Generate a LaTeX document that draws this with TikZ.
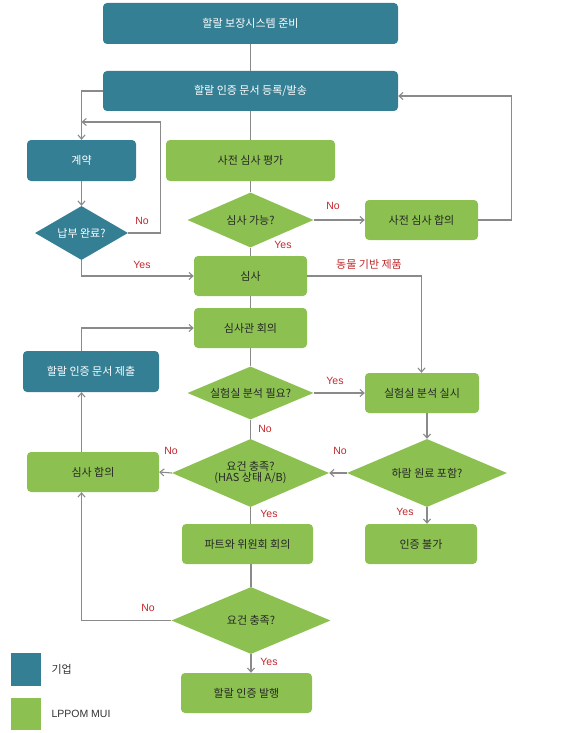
\documentclass[tikz,border=0pt]{standalone}
\usepackage{fontspec}
\setmainfont{Liberation Sans}
\newfontfamily\kr{Noto Sans CJK KR}
\usepackage{tikz}
\usetikzlibrary{arrows.meta,shapes.geometric}
\definecolor{corpc}{HTML}{347F94}
\definecolor{muic}{HTML}{8CC152}
\definecolor{linec}{HTML}{8A8A8A}
\definecolor{redc}{HTML}{C0282D}
\tikzset{
  box/.style={rectangle, rounded corners=4pt, inner sep=0pt, font=\kr\fontsize{11}{13}\selectfont},
  corp/.style={box, fill=corpc, text=white},
  mui/.style={box, fill=muic, text=black!85},
  dec/.style={diamond, inner sep=0pt, font=\kr\fontsize{11}{13}\selectfont, align=center},
  link/.style={draw=linec, line width=1.1pt, -{Straight Barb[length=4pt,width=7pt]}},
  plain/.style={draw=linec, line width=1.1pt},
  yn/.style={font=\fontsize{10.5}{12}\selectfont, text=redc, inner sep=1pt}
}
\begin{document}
\begin{tikzpicture}[x=1pt, y=-1pt]
\useasboundingbox (0,0) rectangle (567,733);
% company boxes
\node[corp, minimum width=295pt, minimum height=41pt] (prep) at (250.5,23.5) {할랄 보장시스템 준비};
\node[corp, minimum width=295pt, minimum height=40pt] (reg) at (250.5,91) {할랄 인증 문서 등록/발송};
\node[corp, minimum width=109pt, minimum height=41pt] (cont) at (81.5,160.5) {계약};
\node[dec, fill=corpc, text=white, minimum width=93pt, minimum height=54pt, shape aspect=1.7] (pay) at (81.5,233) {납부 완료?};
\node[corp, minimum width=136pt, minimum height=41pt] (sub) at (91,371.5) {할랄 인증 문서 제출};
% LPPOM MUI boxes
\node[mui, minimum width=169pt, minimum height=41pt] (pre) at (250.5,160.5) {사전 심사 평가};
\node[dec, fill=muic, text=black!85, minimum width=126pt, minimum height=55pt, shape aspect=2.3] (ok1) at (250.5,220) {심사 가능?};
\node[mui, minimum width=113pt, minimum height=40pt] (prec) at (421.5,220) {사전 심사 합의};
\node[mui, minimum width=113pt, minimum height=40pt] (audit) at (250.5,276) {심사};
\node[mui, minimum width=113pt, minimum height=40pt] (meet) at (250.5,328) {심사관 회의};
\node[dec, fill=muic, text=black!85, minimum width=126pt, minimum height=53pt, shape aspect=2.4] (lab) at (250.5,393) {실험실 분석 필요?};
\node[mui, minimum width=114pt, minimum height=40pt] (labx) at (422,393) {실험실 분석 실시};
\node[dec, fill=muic, text=black!85, minimum width=157pt, minimum height=68pt, shape aspect=2.3] (req) at (250.5,473) {요건 충족?\\[-2pt](HAS 상태 A/B)};
\node[dec, fill=muic, text=black!85, minimum width=160pt, minimum height=68pt, shape aspect=2.3] (haram) at (427,473) {하람 원료 포함?};
\node[mui, minimum width=132pt, minimum height=40pt] (agree) at (93,472) {심사 합의};
\node[mui, minimum width=131pt, minimum height=40pt] (fatwa) at (247.5,544) {파트와 위원회 회의};
\node[mui, minimum width=112pt, minimum height=40pt] (rej) at (421,544) {인증 불가};
\node[dec, fill=muic, text=black!85, minimum width=159pt, minimum height=67pt, shape aspect=2.3] (req2) at (251,620.5) {요건 충족?};
\node[mui, minimum width=131pt, minimum height=40pt] (cert) at (246.5,693) {할랄 인증 발행};
% legend
\node[fill=corpc, minimum width=30pt, minimum height=33pt, inner sep=0pt] (keycorp) at (26,669.5) {};
\node[fill=muic, minimum width=30pt, minimum height=32pt, inner sep=0pt] (keymui) at (26,714) {};
\node[anchor=west, font=\kr\fontsize{11}{13}\selectfont, text=black!80] at (48,669.5) {기업};
\node[anchor=west, font=\fontsize{10.5}{12}\selectfont, text=black!80] at (48,714) {LPPOM MUI};

% connectors
\coordinate (payback) at (81.5,122);
\draw[plain] (prep) -- (reg);
\draw[plain] (reg) -- (pre);
\draw[link] (reg.west) -| (cont.north);
\draw[link] (cont) -- (pay);
\draw[link] (pay.east) -- ++(32,0) |- (payback);
\node[yn] at (142,221) {No};
\draw[plain] (pre) -- (ok1);
\draw[link] (ok1.east) -- (prec.west);
\node[yn] at (333,206) {No};
\draw[link] (prec.east) -- ++(33,0) |- ([yshift=-5pt]reg.east);
\draw[plain] (ok1.south) -- (audit.north);
\node[yn] at (283,245) {Yes};
\draw[link] (pay.south) |- (audit.west);
\node[yn] at (142,265) {Yes};
\draw[link] (audit.east) -| ([xshift=-0.5pt]labx.north);
\node[font=\kr\fontsize{11}{13}\selectfont, text=redc] at (369,264) {동물 기반 제품};
\draw[plain] (audit) -- (meet);
\draw[link] (sub.north -| cont.south) |- (meet.west);
\draw[plain] (meet.south) -- (lab.north);
\draw[link] (lab.east) -- (labx.west);
\node[yn] at (335,381) {Yes};
\draw[plain] (lab.south) -- (req.north);
\node[yn] at (265,429) {No};
\draw[link] (labx.south -| haram.north) -- (haram.north);
\draw[link] (haram.west) -- (req.east);
\node[yn] at (340,451) {No};
\draw[link] (req.west) -- (agree.east);
\node[yn] at (171,451) {No};
\draw[link] (agree.north -| cont.south) -- (sub.south -| cont.south);
\draw[plain] (req.south) -- (req.south |- fatwa.north);
\node[yn] at (269,514) {Yes};
\draw[link] (haram.south) -- (haram.south |- rej.north);
\node[yn] at (405,512) {Yes};
\draw[plain] (fatwa.south -| req2.north) -- (req2.north);
\draw[link] (req2.west) -| (agree.south -| cont.south);
\node[yn] at (148,608) {No};
\draw[link] (req2.south) -- (req2.south |- cert.north);
\node[yn] at (269,662) {Yes};
\end{tikzpicture}
\end{document}
